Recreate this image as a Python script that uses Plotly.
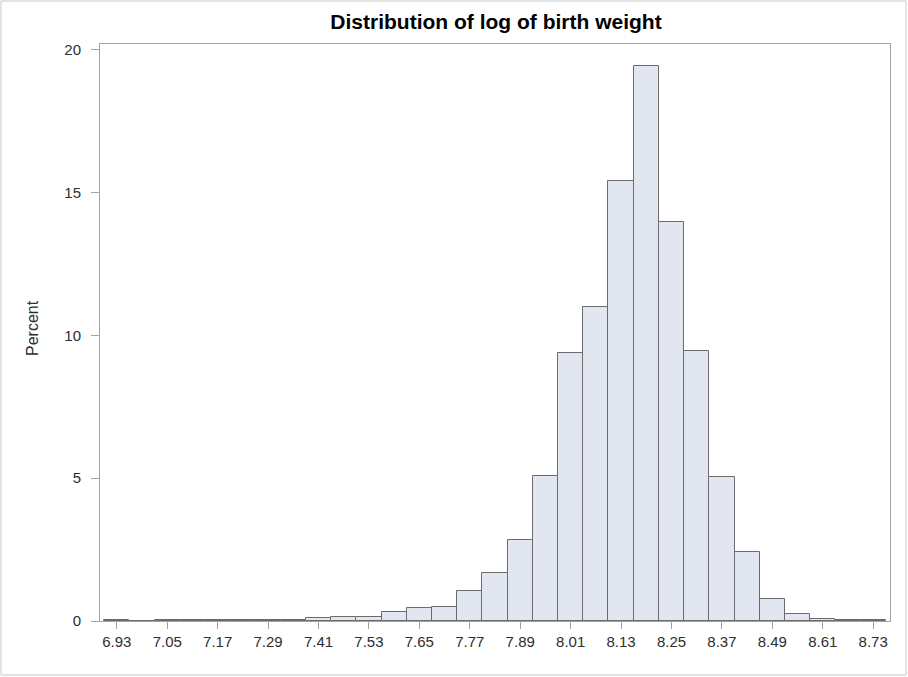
import plotly.graph_objects as go

# Histogram bins (midpoints of log birth weight) and their percentages
bin_centers = [6.93, 6.99, 7.05, 7.11, 7.17, 7.23, 7.29, 7.35, 7.41, 7.47,
               7.53, 7.59, 7.65, 7.71, 7.77, 7.83, 7.89, 7.95, 8.01, 8.07,
               8.13, 8.19, 8.25, 8.31, 8.37, 8.43, 8.49, 8.55, 8.61, 8.67, 8.73]
percent_values = [0.03, 0.01, 0.03, 0.05, 0.05, 0.05, 0.03, 0.04, 0.09, 0.13,
                  0.14, 0.32, 0.44, 0.50, 1.05, 1.67, 2.83, 5.07, 9.40, 11.00,
                  15.42, 19.42, 13.97, 9.47, 5.04, 2.40, 0.77, 0.23, 0.08, 0.02, 0.03]
x_tick_values = [6.93, 7.05, 7.17, 7.29, 7.41, 7.53, 7.65, 7.77, 7.89, 8.01,
                 8.13, 8.25, 8.37, 8.49, 8.61, 8.73]
x_tick_labels = ["6.93", "7.05", "7.17", "7.29", "7.41", "7.53", "7.65", "7.77",
                 "7.89", "8.01", "8.13", "8.25", "8.37", "8.49", "8.61", "8.73"]
y_tick_values = [0, 5, 10, 15, 20]

W, H = 908, 677
ML, MR, MT, MB = 100, 18, 44, 56
PW, PH = W - ML - MR, H - MT - MB

FONT = "Liberation Sans, Arial, sans-serif"
AXIS_GRAY = "#A3A3A3"
TEXT = "#2E2E2E"

fig = go.Figure()
fig.add_trace(go.Bar(
    x=bin_centers,
    y=percent_values,
    width=0.06,
    marker=dict(color="#E2E6F0", line=dict(color="#6B6B6B", width=1)),
    hoverinfo="x+y",
))

fig.update_layout(
    width=W, height=H,
    margin=dict(l=ML, r=MR, t=MT, b=MB),
    paper_bgcolor="white",
    plot_bgcolor="white",
    showlegend=False,
    bargap=0,
    font=dict(family=FONT, size=15, color=TEXT),
    title=dict(
        text="<b>Distribution of log of birth weight</b>",
        font=dict(family=FONT, size=21, color="#000000"),
        x=496 / W, xanchor="center",
        y=1 - 22 / H, yanchor="middle",
    ),
    xaxis=dict(
        range=[6.89, 8.77],
        tickmode="array",
        tickvals=x_tick_values,
        ticktext=x_tick_labels,
        ticks="outside", ticklen=7, tickcolor=AXIS_GRAY, tickwidth=1,
        showline=True, linecolor=AXIS_GRAY, linewidth=1, mirror=True,
        showgrid=False, zeroline=False,
        tickfont=dict(family=FONT, size=15, color=TEXT),
    ),
    yaxis=dict(
        range=[0, 20.2],
        tickmode="array",
        tickvals=y_tick_values,
        ticks="outside", ticklen=8, tickcolor=AXIS_GRAY, tickwidth=1,
        ticklabelstandoff=7,
        showline=True, linecolor=AXIS_GRAY, linewidth=1, mirror=True,
        showgrid=False, zeroline=False,
        tickfont=dict(family=FONT, size=15, color=TEXT),
    ),
    annotations=[dict(
        text="Percent", textangle=-90,
        xref="paper", yref="paper",
        x=(32 - ML) / PW, y=(H - MB - 328) / PH,
        xanchor="center", yanchor="middle", showarrow=False,
        font=dict(family=FONT, size=16, color=TEXT),
    )],
    shapes=[dict(
        type="rect", xref="paper", yref="paper",
        x0=(1 - ML) / PW, x1=(906 - ML) / PW,
        y0=(H - MB - 675) / PH, y1=(H - MB - 1) / PH,
        line=dict(color="#C8C8C8", width=1), fillcolor="rgba(0,0,0,0)",
        layer="below",
    )],
)

fig.write_html("out.html")
